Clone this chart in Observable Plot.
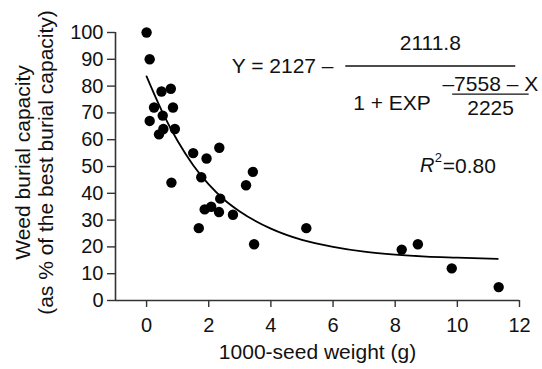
<!DOCTYPE html>
<html><head><meta charset="utf-8">
<script src="https://cdn.jsdelivr.net/npm/d3@7"></script>
<script src="https://cdn.jsdelivr.net/npm/@observablehq/plot@0.6"></script>
<style>html,body{margin:0;padding:0;background:#fff;} #chart svg{display:block;}</style>
</head><body><div id="chart"></div>
<script>
// observed points
const seedWeight = [0.00,0.10,0.24,0.10,0.48,0.78,0.52,0.85,0.40,0.54,0.91,0.80,1.50,1.93,2.34,1.76,3.42,3.20,2.37,1.68,1.87,2.08,2.33,2.78,3.46,5.14,8.21,8.73,9.82,11.33];
const burialCapacity = [100,90,72,67,78,79,69,72,62,64,64,44,55,53,57,46,48,43,38,27,34,35,33,32,21,27,19,21,12,5];
// fitted curve
const fitWeight = [0,0.5,1,1.5,2,2.5,3,4,5,6,7,8,9,10,11.3];
const fitCapacity = [83.6,70.5,59.5,50.5,43.3,37.6,33.2,26.8,22.6,20.0,18.2,17.1,16.4,16.0,15.5];
// ticks
const xTicks = [0,2,4,6,8,10,12];
const yTicks = [0,10,20,30,40,50,60,70,80,90,100];
// texts
const xTitle = "1000-seed weight (g)";
const yTitle1 = "Weed burial capacity";
const yTitle2 = "(as % of the best burial capacity)";
const eqLeft = "Y = 2127 –";
const eqNum = "2111.8";
const eqDenLeft = "1 + EXP";
const eqExpNum = "–7558 – X";
const eqExpDen = "2225";
const r2Symbol = "R";
const r2Power = "2";
const r2Value = "=0.80";

const points = seedWeight.map((x, i) => ({x, y: burialCapacity[i]}));
const fit = fitWeight.map((x, i) => ({x, y: fitCapacity[i]}));

// annotation layout (in data units)
const eqStart = [
  {x: 2.74, y: 87.4, t: eqLeft},
  {x: 6.65, y: 73.5, t: eqDenLeft},
  {x: 9.52, y: 80.7, t: eqExpNum},
  {x: 9.53, y: 50.2, t: r2Value}
];
const eqMiddle = [
  {x: 9.13, y: 95.9, t: eqNum},
  {x: 11.07, y: 71.9, t: eqExpDen}
];
const eqItalic = [{x: 8.80, y: 50.2, t: r2Symbol}];
const eqSup = [{x: 9.27, y: 53.2, t: r2Power}];
const eqBars = [
  {x1: 6.41, x2: 11.88, y: 87.5},
  {x1: 9.85, x2: 12.31, y: 77.0}
];

const font = "'Liberation Sans', Arial, Helvetica, sans-serif";
const axisColor = "#333";
const ink = "#111";

const chart = Plot.plot({
  width: 542,
  height: 369,
  marginLeft: 115,
  marginRight: 23,
  marginTop: 32,
  marginBottom: 69,
  style: {fontFamily: font, fontSize: "20px", color: ink, background: "#fff", overflow: "visible"},
  x: {domain: [-1, 12]},
  y: {domain: [0, 100]},
  marks: [
    Plot.axisY({ticks: yTicks, tickSize: 8, tickPadding: 4, fontSize: 20, stroke: axisColor, strokeWidth: 1.4, label: null}),
    Plot.axisX({ticks: xTicks, tickSize: 7, tickPadding: 10, fontSize: 20, stroke: axisColor, strokeWidth: 1.4, label: null}),
    Plot.ruleX([-1], {stroke: axisColor, strokeWidth: 1.6}),
    Plot.ruleY([0], {stroke: axisColor, strokeWidth: 1.6}),
    Plot.line(fit, {x: "x", y: "y", curve: "monotone-x", stroke: "#000", strokeWidth: 1.8}),
    Plot.dot(points, {x: "x", y: "y", r: 5.2, fill: "#000", stroke: "none"}),
    Plot.text(eqStart, {x: "x", y: "y", text: "t", textAnchor: "start", fontSize: 21, fill: ink}),
    Plot.text(eqMiddle, {x: "x", y: "y", text: "t", textAnchor: "middle", fontSize: 21, fill: ink}),
    Plot.text(eqItalic, {x: "x", y: "y", text: "t", textAnchor: "start", fontSize: 20, fontStyle: "italic", fill: ink}),
    Plot.text(eqSup, {x: "x", y: "y", text: "t", textAnchor: "start", fontSize: 13, fill: ink}),
    Plot.ruleY(eqBars, {x1: "x1", x2: "x2", y: "y", stroke: ink, strokeWidth: 1.3}),
    Plot.text([xTitle], {frameAnchor: "bottom", textAnchor: "middle", dy: 58, fontSize: 21, fill: ink}),
    Plot.text([yTitle1], {frameAnchor: "left", textAnchor: "middle", dx: -92, dy: -4, rotate: -90, fontSize: 21, fill: ink}),
    Plot.text([yTitle2], {frameAnchor: "left", textAnchor: "middle", dx: -69, dy: -4, rotate: -90, fontSize: 21, fill: ink})
  ]
});
document.getElementById("chart").appendChild(chart);
</script>
</body></html>
